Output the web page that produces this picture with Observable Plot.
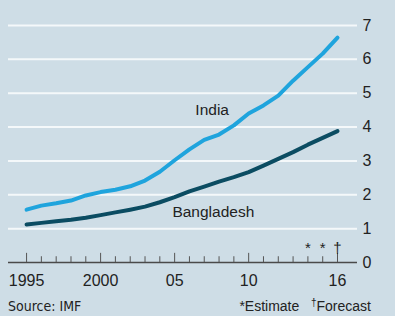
<!DOCTYPE html>
<html>
<head>
<meta charset="utf-8">
<script src="https://cdn.jsdelivr.net/npm/d3@7"></script>
<script src="https://cdn.jsdelivr.net/npm/@observablehq/plot@0.6"></script>
<style>
  html, body { margin: 0; padding: 0; background: #cedde6; }
  body { width: 395px; height: 316px; overflow: hidden; font-family: "Liberation Sans", Arial, sans-serif; }
  #chart svg { display: block; }
  .caption { display: flex; justify-content: space-between; padding: 0 24px 0 8px; height: 20px; line-height: 20px; font-size: 14px; color: #222; }
  .caption .src { font-family: "Liberation Sans Narrow", "Arial Narrow", "DejaVu Sans Condensed", "Liberation Sans", sans-serif; font-size: 14px; }
  .caption sup { font-size: 10px; vertical-align: 5px; line-height: 0; }
</style>
</head>
<body>
<div id="chart"></div>
<div class="caption"><span class="src">Source: IMF</span><span>*Estimate &nbsp; <sup>†</sup>Forecast</span></div>
<script>
// Data: GDP per person, $'000
const years = [1995, 1996, 1997, 1998, 1999, 2000, 2001, 2002, 2003, 2004, 2005,
               2006, 2007, 2008, 2009, 2010, 2011, 2012, 2013, 2014, 2015, 2016];
const india = [1.56, 1.68, 1.75, 1.83, 1.98, 2.08, 2.15, 2.25, 2.42, 2.68, 3.02,
               3.34, 3.62, 3.78, 4.05, 4.40, 4.64, 4.93, 5.37, 5.77, 6.17, 6.64];
const bangladesh = [1.12, 1.17, 1.22, 1.26, 1.32, 1.40, 1.48, 1.56, 1.65, 1.78, 1.93,
                    2.10, 2.24, 2.39, 2.52, 2.67, 2.86, 3.06, 3.26, 3.48, 3.68, 3.88];
const yTicks = [0, 1, 2, 3, 4, 5, 6, 7];
const gridTicks = [1, 2, 3, 4, 5, 6, 7];
const xMajorYears = [1995, 2000, 2005, 2010, 2016];
const xTickLabels = ["1995", "2000", "05", "10", "16"];
const noteYears = [2014, 2015, 2016];
const noteMarks = ["*", "*", "†"];
const seriesLabels = [
  {name: "India", year: 2006.4, value: 4.49},
  {name: "Bangladesh", year: 2004.85, value: 1.5}
];

const indiaData = years.map((year, i) => ({year, value: india[i]}));
const bangladeshData = years.map((year, i) => ({year, value: bangladesh[i]}));
const labelOf = new Map(xMajorYears.map((y, i) => [y, xTickLabels[i]]));

const chart = Plot.plot({
  width: 395,
  height: 296,
  marginLeft: 8,
  marginRight: 38,
  marginTop: 25,
  marginBottom: 34,
  style: {background: "transparent", fontFamily: "'Liberation Sans', Arial, sans-serif", fontSize: "16px", color: "#222"},
  x: {domain: [1993.78, 2017.35]},
  y: {domain: [0, 7]},
  marks: [
    Plot.ruleY(gridTicks, {stroke: "#f4f8fa", strokeWidth: 2}),
    Plot.ruleY([0], {stroke: "#4a4a4a", strokeWidth: 1.3}),
    Plot.ruleX(years, {x: d => d, y1: 0, y2: d => xMajorYears.includes(d) ? 0.27 : 0.17, stroke: "#555", strokeWidth: 1}),
    Plot.axisY({anchor: "right", ticks: yTicks, tickSize: 0, tickPadding: 5, label: null, fontSize: 16, tickFormat: d => String(d)}),
    Plot.axisX({ticks: xMajorYears, tickSize: 0, tickPadding: 12, label: null, fontSize: 16, tickFormat: d => labelOf.get(d)}),
    Plot.line(bangladeshData, {x: "year", y: "value", stroke: "#0b4c62", strokeWidth: 4, strokeLinejoin: "round"}),
    Plot.line(indiaData, {x: "year", y: "value", stroke: "#1fa4dd", strokeWidth: 4, strokeLinejoin: "round"}),
    Plot.text(seriesLabels, {x: "year", y: "value", text: "name", textAnchor: "start", fontSize: 15.5, fill: "#222"}),
    Plot.text(noteYears, {x: d => d, y: 0, text: (d, i) => noteMarks[i], dy: -14, fontSize: 15, fill: "#222"})
  ]
});
document.getElementById("chart").append(chart);
</script>
</body>
</html>
